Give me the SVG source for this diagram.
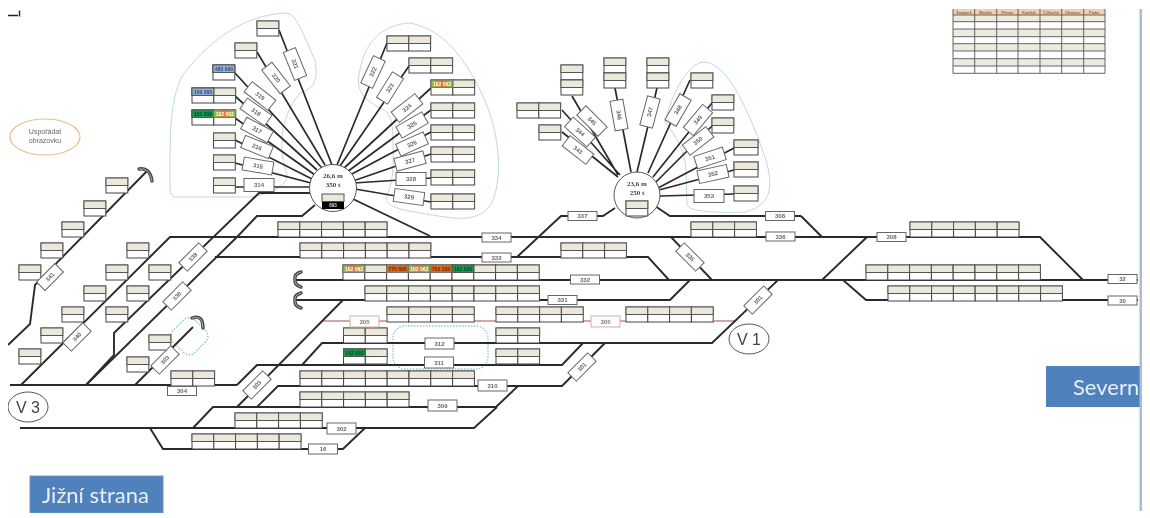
<svg xmlns="http://www.w3.org/2000/svg" width="1150" height="518" viewBox="0 0 1150 518">
<style>
.t{fill:none;stroke:#2b2b2b;stroke-width:1.9;stroke-linejoin:miter}
.s{fill:none;stroke:#2b2b2b;stroke-width:1.7}
.r{fill:none;stroke:#c58a88;stroke-width:1.7}
.blob{fill:none;stroke:#bcd9dc;stroke-width:1}
.dot{fill:none;stroke:#8fcbd6;stroke-width:1.5;stroke-dasharray:1.5 1.5}
.curl{fill:none;stroke:#444;stroke-width:3.4;stroke-linecap:round}
.curl2{fill:none;stroke:#ccc;stroke-width:.8;stroke-linecap:round}
.l rect{fill:#fff;stroke:#666;stroke-width:1}
.l text{font:bold 6px "Liberation Sans",sans-serif;fill:#666;text-anchor:middle}
.lr rect{fill:#fff;stroke:#d9a9a7;stroke-width:1}
.lr text{font:bold 6px "Liberation Sans",sans-serif;fill:#777;text-anchor:middle}
.beige{fill:#e9e8da;stroke:#555;stroke-width:1}
.white{fill:#fff;stroke:#444;stroke-width:1}
.v{font:16px "Liberation Sans",sans-serif;fill:#444;text-anchor:middle}
.ct{font:bold 5px "Liberation Sans",sans-serif;text-anchor:middle}
.hub{font:bold 7px "Liberation Serif",serif;fill:#444;text-anchor:middle}
.big{font:22px Lato,sans-serif;fill:#e8eef7}
.th{font:bold 3.6px "Liberation Sans",sans-serif;fill:#7a6a5a;text-anchor:middle}
.gl{stroke:#555;stroke-width:.9;fill:none}
</style>
<defs>
<filter id="soft" x="0" y="0" width="100%" height="100%"><feGaussianBlur stdDeviation="0.3"/></filter>
<linearGradient id="g1"><stop offset="0" stop-color="#86c440"/><stop offset=".5" stop-color="#e8772a"/><stop offset="1" stop-color="#86c440"/></linearGradient>
<g id="c"><rect class="white" width="21.8" height="15"/><rect class="beige" width="21.8" height="7.5"/></g>
<g id="w"><rect class="white" width="24" height="15"/><rect class="beige" width="24" height="7.5"/></g>
</defs>
<rect width="1150" height="518" fill="#fff"/>
<g filter="url(#soft)">
<g id="outlines">
<path class="blob" d="M287 13C250 14 213 35 183 75C168 100 170 150 170 190C171 197 173 197 180 197L253 197C275 192 287 185 287 175C279 150 278 120 300 93C315 88 318 80 315 60C305 40 298 15 287 13Z"/>
<path class="blob" d="M410 23C385 24 365 40 360 70C355 90 362 98 380 108C392 112 393 125 393 145C394 165 393 185 386 197C387 207 395 210 453 218C480 220 495 212 498 177C500 150 495 120 480 90C465 60 445 30 410 23Z"/>
<path class="blob" d="M665 122C670 100 685 65 703 62C725 62 745 100 765 157C775 190 770 205 745 212C720 213 700 212 690 208C685 205 687 190 686 170C685 150 675 135 665 122Z"/>
<rect class="dot" x="393" y="326" width="95" height="43" rx="12"/>
<rect class="dot" x="177" y="320" width="31" height="31" rx="8" transform="rotate(45 190 332)" stroke-width="1"/>
</g>
<g id="connectors">
<path class="t" d="M148 170L35 285L30 324L8 345"/>
<path class="t" d="M21 385L170 237H1040L1083 280"/>
<path class="t" d="M801 216L822 237M801 216H670L652 204"/>
<path class="t" d="M86 385L114 355V333L259 193H311"/>
<path class="t" d="M135 385L193 327"/>
<path class="t" d="M86 385L237 237L257 216H302L315 205"/>
<path class="t" d="M10 385H237"/>
<path class="t" d="M215 257H648L669 280"/>
<path class="t" d="M517 257L561 216H603L615 208"/>
<path class="t" d="M353 199L430 236"/>
<path class="t" d="M671 237L712 280"/>
<path class="t" d="M296 280H1138"/>
<path class="t" d="M296 300H670L690 280"/>
<path class="t" d="M822 280L867 237"/>
<path class="t" d="M843 280L866 300H1138"/>
<path class="r" d="M323 321H735"/>
<path class="t" d="M343 300L237 407"/>
<path class="t" d="M237 385L257 365H562L583 343"/>
<path class="t" d="M257 407L278 386H562L605 343"/>
<path class="t" d="M302 365L322 343H712L778 280"/>
<path class="t" d="M193 428L213 407H496L518 386"/>
<path class="t" d="M20 428H474L497 407"/>
<path class="t" d="M150 428L163 449H343L365 428"/>
<path class="s" d="M279 30L332 165M257 52L325 165M235 73L322 168M235 96L317 170M235 118L315 175M235 140L312 179M235 163L311 183M235 187H311"/>
<path class="s" d="M387 43L337 165M409 66L340 166M431 88L343 169M431 110L347 172M431 132L350 175M431 154L353 181M431 178L354 183M431 202L355 189"/>
<path class="s" d="M572 96L618 175M562 110L620 175M562 132L618 177M615 88L631 172M657 88L637 172M690 80L648 173M712 103L653 177M712 126L656 182M734 148L658 188M734 170L659 190M734 194L660 196"/>
<path class="curl" d="M139 169Q150 167 152 181"/><path class="curl2" d="M139 169Q150 167 152 181"/>
<path class="curl" d="M192 318Q203 314 203 328"/><path class="curl2" d="M192 318Q203 314 203 328"/>
<path class="curl" d="M301 272Q294 274 295 279Q294 285 301 287"/><path class="curl2" d="M301 272Q294 274 295 279Q294 285 301 287"/>
<path class="curl" d="M301 293Q294 295 295 300Q294 306 301 308"/><path class="curl2" d="M301 293Q294 295 295 300Q294 306 301 308"/>
</g>
<g id="cells-hub1-left">
<use href="#c" x="257" y="21"/><use href="#c" x="235" y="43"/>
<use href="#c" x="213" y="65"/><rect x="213" y="65" width="21.8" height="7.5" fill="#93afd6" stroke="#555"/><text class="ct" x="224" y="71" fill="#34507a">480 699</text>
<use href="#c" x="192" y="88"/><use href="#c" x="213.8" y="88"/><rect x="192" y="88" width="21.8" height="7.5" fill="#93afd6" stroke="#555"/><text class="ct" x="203" y="94" fill="#34507a">169 365</text>
<use href="#c" x="192" y="110"/><use href="#c" x="213.8" y="110"/><rect x="192" y="110" width="21.8" height="7.5" fill="#13964e" stroke="#555"/><text class="ct" x="203" y="116" fill="#0a4a26">161 399</text><rect x="213.8" y="110" width="21.8" height="7.5" fill="url(#g1)" stroke="#777"/><text class="ct" x="224.7" y="116" fill="#fff">162 062</text>
<use href="#c" x="213.5" y="133"/><use href="#c" x="213.5" y="155"/><use href="#c" x="213.5" y="178"/>
</g>
<g id="cells-hub1-right">
<use href="#c" x="387" y="36"/><use href="#c" x="408.8" y="36"/>
<use href="#c" x="409" y="58"/><use href="#c" x="430.8" y="58"/>
<use href="#c" x="431" y="80"/><use href="#c" x="452.8" y="80"/><rect x="431" y="80" width="21.8" height="7.5" fill="url(#g1)" stroke="#777"/><text class="ct" x="442" y="86" fill="#fff">162 062</text>
<use href="#c" x="431" y="103"/><use href="#c" x="452.8" y="103"/>
<use href="#c" x="431" y="125"/><use href="#c" x="452.8" y="125"/>
<use href="#c" x="431" y="147"/><use href="#c" x="452.8" y="147"/>
<use href="#c" x="431" y="170"/><use href="#c" x="452.8" y="170"/>
<use href="#c" x="431" y="194"/><use href="#c" x="452.8" y="194"/>
</g>
<g id="cells-hub2">
<use href="#c" x="561" y="65"/><use href="#c" x="561" y="80"/>
<use href="#c" x="604" y="58"/><use href="#c" x="604" y="73"/>
<use href="#c" x="647" y="58"/><use href="#c" x="647" y="73"/>
<use href="#c" x="517" y="103"/><use href="#c" x="538.8" y="103"/>
<use href="#c" x="539" y="125"/>
<use href="#c" x="691" y="73"/><use href="#c" x="712" y="95"/><use href="#c" x="712" y="118"/>
<use href="#w" x="734" y="140"/><use href="#w" x="734" y="162"/><use href="#w" x="734" y="186"/>
</g>
<g id="cells-left">
<use href="#c" x="106" y="178"/><use href="#c" x="84" y="201"/><use href="#c" x="62" y="222"/><use href="#c" x="41" y="243"/><use href="#c" x="19" y="265"/>
<use href="#c" x="127" y="243"/><use href="#c" x="106" y="265"/><use href="#c" x="84" y="286"/><use href="#c" x="62" y="307"/><use href="#c" x="41" y="328"/><use href="#c" x="19" y="349"/>
<use href="#c" x="149" y="265"/><use href="#c" x="127" y="286"/><use href="#c" x="106" y="307"/>
<use href="#c" x="149" y="335"/><use href="#c" x="127" y="357"/>
<use href="#c" x="171" y="371"/><use href="#c" x="192.8" y="371"/>
</g>
<g id="cells-main">
<use href="#c" x="278" y="222"/><use href="#c" x="299.8" y="222"/><use href="#c" x="321.6" y="222"/><use href="#c" x="343.4" y="222"/><use href="#c" x="365.2" y="222"/>
<use href="#c" x="300" y="243"/><use href="#c" x="321.8" y="243"/><use href="#c" x="343.6" y="243"/><use href="#c" x="365.4" y="243"/><use href="#c" x="387.2" y="243"/><use href="#c" x="409" y="243"/>
<use href="#c" x="561" y="243"/><use href="#c" x="582.8" y="243"/><use href="#c" x="604.6" y="243"/>
<use href="#c" x="691" y="222"/><use href="#c" x="712.8" y="222"/><use href="#c" x="734.6" y="222"/>
<use href="#c" x="343" y="265"/><use href="#c" x="364.8" y="265"/><use href="#c" x="386.6" y="265"/><use href="#c" x="408.4" y="265"/><use href="#c" x="430.2" y="265"/><use href="#c" x="452" y="265"/><use href="#c" x="473.8" y="265"/><use href="#c" x="495.6" y="265"/><use href="#c" x="517.4" y="265"/>
<rect x="343" y="265" width="21.8" height="7.5" fill="url(#g1)" stroke="#777"/><text class="ct" x="354" y="271" fill="#fff">162 062</text>
<rect x="386.6" y="265" width="21.8" height="7.5" fill="#d8691f" stroke="#777"/><text class="ct" x="397.5" y="271" fill="#6b2c05">770 695</text>
<rect x="408.4" y="265" width="21.8" height="7.5" fill="url(#g1)" stroke="#777"/><text class="ct" x="419.3" y="271" fill="#fff">162 062</text>
<rect x="430.2" y="265" width="21.8" height="7.5" fill="#d8691f" stroke="#777"/><text class="ct" x="441" y="271" fill="#6b2c05">760 236</text>
<rect x="452" y="265" width="21.8" height="7.5" fill="#13964e" stroke="#555"/><text class="ct" x="463" y="271" fill="#0a4a26">162 526</text>
<use href="#c" x="365" y="286"/><use href="#c" x="386.8" y="286"/><use href="#c" x="408.6" y="286"/><use href="#c" x="430.4" y="286"/><use href="#c" x="452.2" y="286"/><use href="#c" x="474" y="286"/><use href="#c" x="495.8" y="286"/><use href="#c" x="517.6" y="286"/>
<use href="#c" x="387" y="307"/><use href="#c" x="408.8" y="307"/><use href="#c" x="430.6" y="307"/><use href="#c" x="452.4" y="307"/>
<use href="#c" x="496" y="307"/><use href="#c" x="517.8" y="307"/><use href="#c" x="539.6" y="307"/><use href="#c" x="561.4" y="307"/>
<use href="#c" x="626" y="307"/><use href="#c" x="647.8" y="307"/><use href="#c" x="669.6" y="307"/><use href="#c" x="691.4" y="307"/>
<use href="#c" x="343.5" y="328"/><use href="#c" x="365.3" y="328"/><use href="#c" x="496" y="328"/><use href="#c" x="517.8" y="328"/>
<use href="#c" x="343.5" y="349"/><use href="#c" x="365.3" y="349"/><use href="#c" x="496" y="349"/><use href="#c" x="517.8" y="349"/>
<rect x="343.5" y="349" width="21.8" height="7.5" fill="#13964e" stroke="#555"/><text class="ct" x="354.4" y="355" fill="#0a4a26">162 455</text>
<use href="#c" x="300" y="371"/><use href="#c" x="321.8" y="371"/><use href="#c" x="343.6" y="371"/><use href="#c" x="365.4" y="371"/><use href="#c" x="387.2" y="371"/><use href="#c" x="409" y="371"/><use href="#c" x="430.8" y="371"/><use href="#c" x="452.6" y="371"/>
<use href="#c" x="300" y="392"/><use href="#c" x="321.8" y="392"/><use href="#c" x="343.6" y="392"/><use href="#c" x="365.4" y="392"/><use href="#c" x="387.2" y="392"/>
<use href="#c" x="235" y="413"/><use href="#c" x="256.8" y="413"/><use href="#c" x="278.6" y="413"/><use href="#c" x="300.4" y="413"/>
<use href="#c" x="192" y="434"/><use href="#c" x="213.8" y="434"/><use href="#c" x="235.6" y="434"/><use href="#c" x="257.4" y="434"/><use href="#c" x="279.2" y="434"/>
<use href="#c" x="910" y="222"/><use href="#c" x="931.8" y="222"/><use href="#c" x="953.6" y="222"/><use href="#c" x="975.4" y="222"/><use href="#c" x="997.2" y="222"/>
<use href="#c" x="866" y="265"/><use href="#c" x="887.8" y="265"/><use href="#c" x="909.6" y="265"/><use href="#c" x="931.4" y="265"/><use href="#c" x="953.2" y="265"/><use href="#c" x="975" y="265"/><use href="#c" x="996.8" y="265"/><use href="#c" x="1018.6" y="265"/>
<use href="#c" x="888" y="286"/><use href="#c" x="909.8" y="286"/><use href="#c" x="931.6" y="286"/><use href="#c" x="953.4" y="286"/><use href="#c" x="975.2" y="286"/><use href="#c" x="997" y="286"/><use href="#c" x="1018.8" y="286"/><use href="#c" x="1040.6" y="286"/>
</g>
<g id="hub1"><circle cx="333" cy="188" r="23.5" fill="#fff" stroke="#555"/><text class="hub" x="333" y="178">26,6 m</text><text class="hub" x="333" y="187">350 t</text><rect x="322" y="194" width="22" height="15" fill="#000"/><rect x="322" y="194" width="22" height="7.5" class="beige"/><text x="333" y="207" font-family="Liberation Sans,sans-serif" font-size="4.5" font-weight="bold" fill="#ddd" text-anchor="middle">893</text></g>
<g id="hub2"><circle cx="637" cy="195" r="23" fill="#fff" stroke="#555"/><text class="hub" x="637" y="186">23,6 m</text><text class="hub" x="637" y="195">250 t</text><use href="#c" x="626" y="201"/></g>
<g id="l321" class="l" transform="translate(295 64) rotate(68)"><rect x="-15" y="-6.5" width="30" height="13"/><text y="2">321</text></g>
<g id="l320" class="l" transform="translate(276 78) rotate(52)"><rect x="-15" y="-6.5" width="30" height="13"/><text y="2">320</text></g>
<g id="l319" class="l" transform="translate(260 96) rotate(38)"><rect x="-15" y="-6.5" width="30" height="13"/><text y="2">319</text></g>
<g id="l318" class="l" transform="translate(256 112) rotate(35)"><rect x="-15" y="-6.5" width="30" height="13"/><text y="2">318</text></g>
<g id="l317" class="l" transform="translate(257 130) rotate(28)"><rect x="-15" y="-6.5" width="30" height="13"/><text y="2">317</text></g>
<g id="l316" class="l" transform="translate(257 147) rotate(22)"><rect x="-15" y="-6.5" width="30" height="13"/><text y="2">316</text></g>
<g id="l315" class="l" transform="translate(258 166) rotate(10)"><rect x="-15" y="-6.5" width="30" height="13"/><text y="2">315</text></g>
<g id="l314" class="l" transform="translate(259 185)"><rect x="-15" y="-6.5" width="30" height="13"/><text y="2">314</text></g>
<g id="l322" class="l" transform="translate(373 72) rotate(-65)"><rect x="-15" y="-6.5" width="30" height="13"/><text y="2">322</text></g>
<g id="l323" class="l" transform="translate(390 88) rotate(-58)"><rect x="-15" y="-6.5" width="30" height="13"/><text y="2">323</text></g>
<g id="l324" class="l" transform="translate(407 108) rotate(-38)"><rect x="-15" y="-6.5" width="30" height="13"/><text y="2">324</text></g>
<g id="l325" class="l" transform="translate(412 125) rotate(-30)"><rect x="-15" y="-6.5" width="30" height="13"/><text y="2">325</text></g>
<g id="l326" class="l" transform="translate(412 144) rotate(-24)"><rect x="-15" y="-6.5" width="30" height="13"/><text y="2">326</text></g>
<g id="l327" class="l" transform="translate(410 161) rotate(-15)"><rect x="-15" y="-6.5" width="30" height="13"/><text y="2">327</text></g>
<g id="l328" class="l" transform="translate(411 179)"><rect x="-15" y="-6.5" width="30" height="13"/><text y="2">328</text></g>
<g id="l329" class="l" transform="translate(409 197) rotate(8)"><rect x="-15" y="-6.5" width="30" height="13"/><text y="2">329</text></g>
<g id="l345" class="l" transform="translate(592 121) rotate(45)"><rect x="-15" y="-6.5" width="30" height="13"/><text y="2">345</text></g>
<g id="l344" class="l" transform="translate(580 132) rotate(42)"><rect x="-15" y="-6.5" width="30" height="13"/><text y="2">344</text></g>
<g id="l343" class="l" transform="translate(578 150) rotate(38)"><rect x="-15" y="-6.5" width="30" height="13"/><text y="2">343</text></g>
<g id="l346" class="l" transform="translate(619 115) rotate(80)"><rect x="-15" y="-6.5" width="30" height="13"/><text y="2">346</text></g>
<g id="l347" class="l" transform="translate(650 112) rotate(-75)"><rect x="-15" y="-6.5" width="30" height="13"/><text y="2">347</text></g>
<g id="l348" class="l" transform="translate(678 110) rotate(-60)"><rect x="-15" y="-6.5" width="30" height="13"/><text y="2">348</text></g>
<g id="l349" class="l" transform="translate(698 120) rotate(-50)"><rect x="-15" y="-6.5" width="30" height="13"/><text y="2">349</text></g>
<g id="l350" class="l" transform="translate(698 141) rotate(-38)"><rect x="-15" y="-6.5" width="30" height="13"/><text y="2">350</text></g>
<g id="l351" class="l" transform="translate(710 158) rotate(-18)"><rect x="-15" y="-6.5" width="30" height="13"/><text y="2">351</text></g>
<g id="l352" class="l" transform="translate(713 174) rotate(-12)"><rect x="-15" y="-6.5" width="30" height="13"/><text y="2">352</text></g>
<g id="l353" class="l" transform="translate(709 196)"><rect x="-15" y="-6.5" width="30" height="13"/><text y="2">353</text></g>
<g id="l341" class="l" transform="translate(50 277) rotate(-45)"><rect x="-13" y="-6" width="26" height="12"/><text y="2">341</text></g>
<g id="l340" class="l" transform="translate(77 337) rotate(-45)"><rect x="-14" y="-6" width="28" height="12"/><text y="2">340</text></g>
<g id="l339" class="l" transform="translate(193 257) rotate(-45)"><rect x="-14" y="-6" width="28" height="12"/><text y="2">339</text></g>
<g id="l330" class="l" transform="translate(177 296) rotate(-45)"><rect x="-14" y="-6" width="28" height="12"/><text y="2">330</text></g>
<g id="l303a" class="l" transform="translate(165 360) rotate(-45)"><rect x="-14" y="-6" width="28" height="12"/><text y="2">303</text></g>
<g id="l303b" class="l" transform="translate(257 385) rotate(-45)"><rect x="-14" y="-6" width="28" height="12"/><text y="2">303</text></g>
<g id="l301a" class="l" transform="translate(758 300) rotate(-45)"><rect x="-14" y="-6" width="28" height="12"/><text y="2">301</text></g>
<g id="l301b" class="l" transform="translate(582 367) rotate(-45)"><rect x="-14" y="-6" width="28" height="12"/><text y="2">301</text></g>
<g id="l335" class="l" transform="translate(690 257) rotate(45)"><rect x="-14" y="-6" width="28" height="12"/><text y="2">335</text></g>
<g id="l304" class="l" transform="translate(182 391)"><rect x="-14.5" y="-4.5" width="29" height="9"/><text y="2">304</text></g>
<g id="l334" class="l" transform="translate(496.5 237.5)"><rect x="-14.5" y="-4.5" width="29" height="9"/><text y="2">334</text></g>
<g id="l333" class="l" transform="translate(496.5 257.5)"><rect x="-14.5" y="-4.5" width="29" height="9"/><text y="2">333</text></g>
<g id="l332" class="l" transform="translate(585 279.5)"><rect x="-14.5" y="-4.5" width="29" height="9"/><text y="2">332</text></g>
<g id="l331" class="l" transform="translate(562.5 300)"><rect x="-14.5" y="-4.5" width="29" height="9"/><text y="2">331</text></g>
<g id="l305a" class="lr" transform="translate(364.5 321.5)"><rect x="-14.5" y="-5.5" width="29" height="11"/><text y="2">305</text></g>
<g id="l305b" class="lr" transform="translate(605.5 321.5)"><rect x="-14.5" y="-5.5" width="29" height="11"/><text y="2">305</text></g>
<g id="l312" class="l" transform="translate(439.5 343.5)"><rect x="-14.5" y="-5.5" width="29" height="11"/><text y="2">312</text></g>
<g id="l311" class="l" transform="translate(439 362.5)"><rect x="-14.5" y="-5.5" width="29" height="11"/><text y="2">311</text></g>
<g id="l310" class="l" transform="translate(492.5 385.5)"><rect x="-14.5" y="-5.5" width="29" height="11"/><text y="2">310</text></g>
<g id="l309" class="l" transform="translate(442.5 405.5)"><rect x="-14.5" y="-5.5" width="29" height="11"/><text y="2">309</text></g>
<g id="l302" class="l" transform="translate(341.5 428.5)"><rect x="-14.5" y="-5.5" width="29" height="11"/><text y="2">302</text></g>
<g id="l16" class="l" transform="translate(323 449)"><rect x="-14.5" y="-5" width="29" height="10"/><text y="2">16</text></g>
<g id="l337" class="l" transform="translate(582.5 216)"><rect x="-14.5" y="-4.5" width="29" height="9"/><text y="2">337</text></g>
<g id="l308a" class="l" transform="translate(780 216)"><rect x="-14.5" y="-4.5" width="29" height="9"/><text y="2">308</text></g>
<g id="l336" class="l" transform="translate(780.5 236.5)"><rect x="-14.5" y="-4.5" width="29" height="9"/><text y="2">336</text></g>
<g id="l308b" class="l" transform="translate(891.5 237)"><rect x="-14.5" y="-4.5" width="29" height="9"/><text y="2">308</text></g>
<g id="l32" class="l" transform="translate(1122.5 279)"><rect x="-14.5" y="-4.5" width="29" height="9"/><text y="2">32</text></g>
<g id="l30" class="l" transform="translate(1122.5 300.5)"><rect x="-14.5" y="-4.5" width="29" height="9"/><text y="2">30</text></g>
<g id="v1"><ellipse cx="749" cy="339" rx="20" ry="15" fill="#fff" stroke="#555"/><text class="v" x="749" y="345">V 1</text></g>
<g id="v3"><ellipse cx="28" cy="407" rx="20" ry="15" fill="#fff" stroke="#555"/><text class="v" x="28" y="413">V 3</text></g>
<g id="arrange"><ellipse cx="45" cy="137" rx="35" ry="18" fill="#fff" stroke="#e8bd90" stroke-width="1.2"/><text x="45" y="134" font-family="Liberation Sans,sans-serif" font-size="7" fill="#666" text-anchor="middle">Uspořádat</text><text x="45" y="143" font-family="Liberation Sans,sans-serif" font-size="7" fill="#666" text-anchor="middle">obrazovku</text></g>
<g id="mark"><path d="M8 15.5H18" stroke="#222" stroke-width="1.5"/><path d="M19.5 10.5V16.5" stroke="#333" stroke-width="1.5"/></g>
<g id="table">
<rect x="953" y="9" width="152" height="6" fill="#f3cdac"/>
<path fill="#ecebdf" d="M953 15h152v7h-152zM953 29h152v8h-152zM953 44h152v7h-152zM953 59h152v7h-152z"/>
<path class="gl" d="M953 9V73.3M974.7 9V73.3M996.7 9V73.3M1018 9V73.3M1040 9V73.3M1061.7 9V73.3M1083.7 9V73.3M1105 9V73.3M953 15H1105M953 21.7H1105M953 29H1105M953 36.7H1105M953 43.7H1105M953 51H1105M953 58.7H1105M953 66H1105M953 73.3H1105"/>
<text class="th" x="964" y="13.5">Šumperk</text><text class="th" x="985.7" y="13.5">Břeclav</text><text class="th" x="1007.3" y="13.5">Přerov</text><text class="th" x="1029" y="13.5">Kunštát</text><text class="th" x="1050.8" y="13.5">Č.Dlouhá</text><text class="th" x="1072.7" y="13.5">Olomouc</text><text class="th" x="1094.3" y="13.5">Praha</text>
</g>
<g id="jizni"><rect x="30" y="476" width="133" height="37" fill="#4f81bd" stroke="#6f95c8"/><text class="big" x="42" y="503">Jižní strana</text></g>
<g id="severni"><rect x="1046" y="366" width="94" height="41" fill="#4f81bd"/><text class="big" x="1073" y="395">Severn</text></g>
</g>
<rect id="edge" x="1139.5" y="9" width="2.5" height="502" fill="#a9bcd8"/>
<rect x="1142" y="0" width="8" height="518" fill="#fff"/>
</svg>
